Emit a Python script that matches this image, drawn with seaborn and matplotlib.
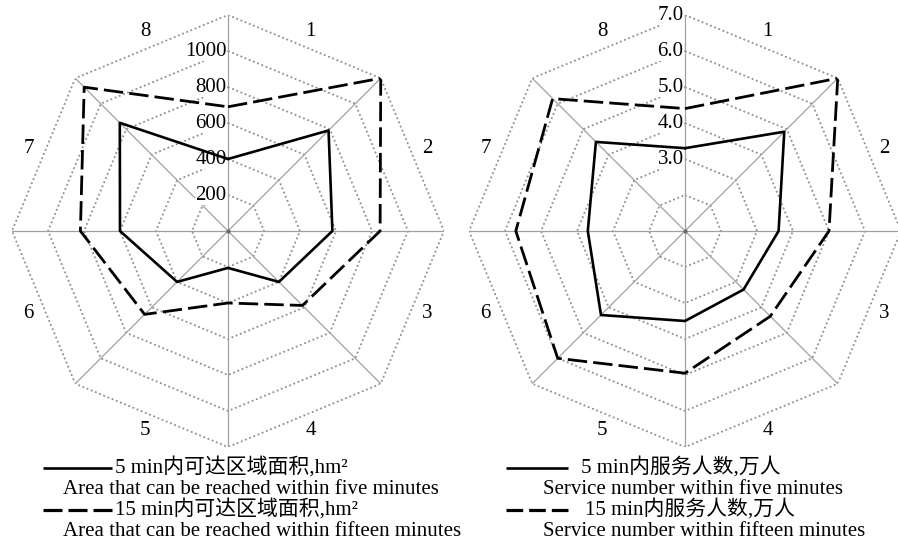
import numpy as np
import pandas as pd
import matplotlib.pyplot as plt
from matplotlib.lines import Line2D
import seaborn as sns

# data: 8 sites
sites = ['1', '2', '3', '4', '5', '6', '7', '8']
area_5min = [400, 790, 580, 400, 205, 400, 600, 850]
area_15min = [690, 1200, 845, 585, 400, 655, 820, 1130]
people_5min = [3.3, 4.9, 3.6, 3.3, 3.5, 4.3, 3.7, 4.5]
people_15min = [4.4, 7.0, 5.0, 4.35, 4.95, 6.0, 5.7, 6.2]

area_rings = [200, 400, 600, 800, 1000, 1200]
area_tick_labels = ['200', '400', '600', '800', '1000']
people_rings = [2.0, 3.0, 4.0, 5.0, 6.0, 7.0]
people_tick_labels = ['3.0', '4.0', '5.0', '6.0', '7.0']

legend_area = [('5 min内可达区域面积,hm²', 'Area that can be reached within five minutes'),
               ('15 min内可达区域面积,hm²', 'Area that can be reached within fifteen minutes')]
legend_people = [('5 min内服务人数,万人', 'Service number within five minutes'),
                 ('15 min内服务人数,万人', 'Service number within fifteen minutes')]

sns.set_theme(style='white')
plt.rcParams['font.family'] = ['Liberation Serif', 'Noto Sans CJK SC']
plt.rcParams['text.color'] = 'black'

W, H = 898, 540
DASH = (0, (7, 2.2))
GRID_C = '#8f8f8f'


def radar(ax, v5, v15, rings, rmin, tick_labels):
    n = len(sites)
    theta = np.linspace(0, 2 * np.pi, n, endpoint=False)
    theta_closed = np.append(theta, 2 * np.pi)
    rmax = rings[-1]

    ax.set_theta_zero_location('N')
    ax.set_theta_direction(-1)
    ax.set_ylim(rmin, rmax)
    ax.grid(False)
    ax.set_xticks([])
    ax.set_yticks([])
    ax.spines['polar'].set_visible(False)
    ax.set_facecolor('none')

    # octagon grid
    for v in rings:
        ax.plot(theta_closed, [v] * (n + 1), color=GRID_C, lw=1.3, ls=(0, (1, 1.5)), zorder=1)
    for a in theta:
        ax.plot([a, a], [rmin, rmax], color='#a0a0a0', lw=0.9, zorder=1)
    ax.plot([0], [rmin], marker='o', ms=2, color='#666666', zorder=1)

    df = pd.DataFrame({'theta': theta_closed,
                       'v5': list(v5) + [v5[0]],
                       'v15': list(v15) + [v15[0]]})
    sns.lineplot(data=df, x='theta', y='v5', sort=False, estimator=None,
                 color='black', lw=1.9, ax=ax, zorder=3)
    sns.lineplot(data=df, x='theta', y='v15', sort=False, estimator=None,
                 color='black', lw=2.0, linestyle=DASH, ax=ax, zorder=3)
    ax.set_xlabel('')
    ax.set_ylabel('')

    for lbl in tick_labels:
        ax.annotate(lbl, xy=(0, float(lbl)), xytext=(-1, 0), textcoords='offset points',
                    ha='right', va='center', fontsize=15, zorder=2,
                    bbox=dict(fc='white', ec='none', pad=0.3))
    for a, s in zip(theta + np.pi / n, sites):
        ax.text(a, rmax, s, ha='center', va='center', fontsize=15)


def legend_block(x_line, x_txt, x_en, entries, y0=468, dy=42):
    # three dashes and two gaps fill the dashed sample exactly
    lw_d = 2.3
    gap = 6.0
    dash = ((x_line[1] - x_line[0]) - 2 * gap) / 3
    dash_ls = (0, (dash * 0.72 / lw_d, gap * 0.72 / lw_d))
    for i, (zh, en) in enumerate(entries):
        y = y0 + i * dy
        fig.add_artist(Line2D([x_line[0] / W, x_line[1] / W], [1 - y / H, 1 - y / H],
                              color='black', lw=1.9 if i == 0 else lw_d,
                              ls='-' if i == 0 else dash_ls, solid_capstyle='butt',
                              dash_capstyle='butt'))
        fig.text(x_txt[i] / W, 1 - y / H, zh, ha='left', va='center', fontsize=15)
        fig.text(x_en / W, 1 - (y + 22) / H, en, ha='left', va='center', fontsize=15)


fig = plt.figure(figsize=(W / 100, H / 100), dpi=100)
R = 216
ax1 = fig.add_axes([(228 - R) / W, (H - 231 - R) / H, 2 * R / W, 2 * R / H], projection='polar')
ax2 = fig.add_axes([(685 - R) / W, (H - 231 - R) / H, 2 * R / W, 2 * R / H], projection='polar')

radar(ax1, area_5min, area_15min, area_rings, 0, area_tick_labels)
radar(ax2, people_5min, people_15min, people_rings, 1.0, people_tick_labels)

legend_block((43, 112), (115, 115), 63, legend_area)
legend_block((506, 568), (581, 585), 543, legend_people)

fig.savefig('out.png', dpi=100)
